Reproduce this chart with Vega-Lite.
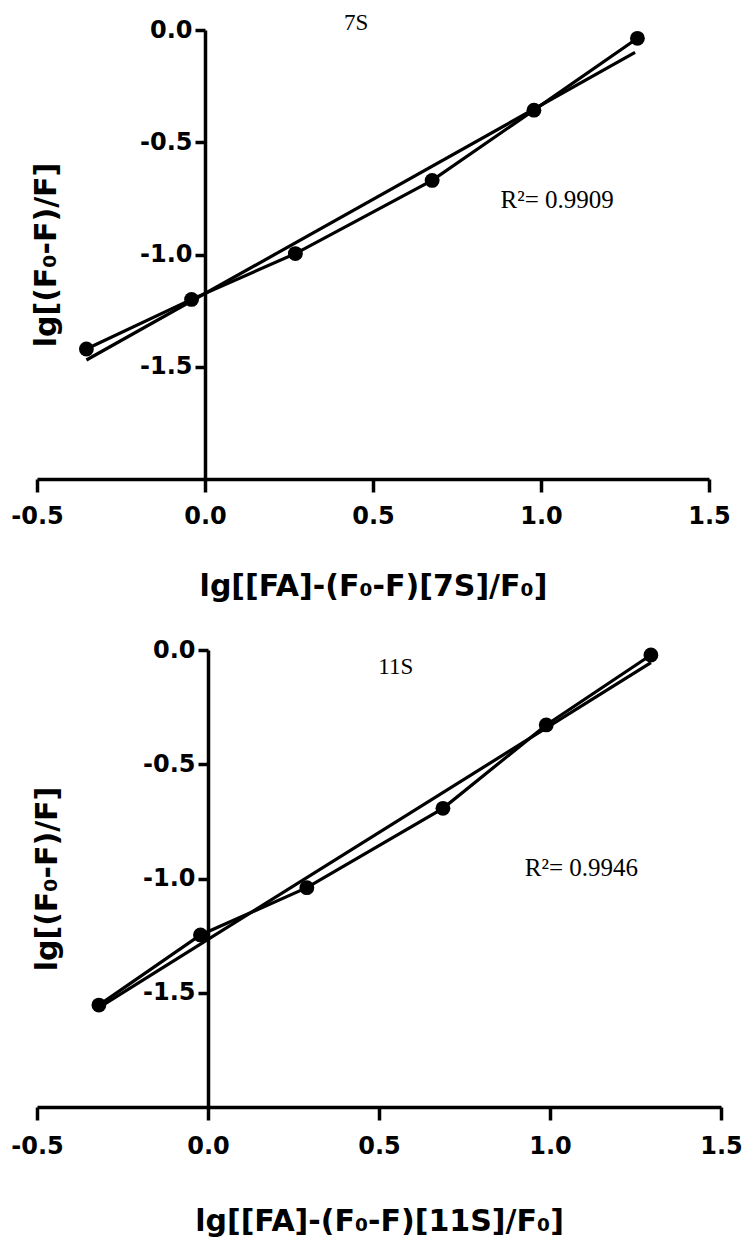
{
  "$schema": "https://vega.github.io/schema/vega-lite/v6.json",
  "background": "white",
  "padding": {"left": 10, "top": 12, "right": 5, "bottom": 5},
  "bounds": "flush",
  "spacing": 171,
  "config": {
    "view": {"stroke": null},
    "axis": {
      "grid": false,
      "domainColor": "black",
      "domainWidth": 3.5,
      "tickColor": "black",
      "tickWidth": 3.5,
      "labelFont": "DejaVu Sans",
      "labelFontWeight": "bold",
      "labelFontSize": 24,
      "labelColor": "black",
      "labelFlush": false,
      "labelOverlap": false,
      "titleFont": "DejaVu Sans",
      "titleFontWeight": "bold",
      "titleFontSize": 30,
      "titleColor": "black"
    }
  },
  "datasets": {
    "pts7S": [
      {"x": -0.353, "y": -1.421},
      {"x": -0.040, "y": -1.200},
      {"x": 0.269, "y": -0.996},
      {"x": 0.676, "y": -0.670},
      {"x": 0.979, "y": -0.357},
      {"x": 1.287, "y": -0.037}
    ],
    "fit7S": [
      {"x": -0.353, "y": -1.470},
      {"x": 1.280, "y": -0.100}
    ],
    "pts11S": [
      {"x": -0.319, "y": -1.554},
      {"x": -0.022, "y": -1.247},
      {"x": 0.289, "y": -1.040},
      {"x": 0.687, "y": -0.693},
      {"x": 0.989, "y": -0.328},
      {"x": 1.295, "y": -0.022}
    ],
    "fit11S": [
      {"x": -0.319, "y": -1.565},
      {"x": 1.295, "y": -0.055}
    ]
  },
  "vconcat": [
    {
      "width": 672,
      "height": 449,
      "layer": [
        {
          "data": {"name": "fit7S"},
          "mark": {"type": "line", "color": "black", "strokeWidth": 3.2},
          "encoding": {
            "x": {
              "field": "x", "type": "quantitative",
              "scale": {"domain": [-0.5, 1.5], "nice": false, "zero": false},
              "axis": {
                "values": [-0.5, 0, 0.5, 1, 1.5],
                "format": ".1f",
                "labelExpr": "replace(datum.label, '\u2212', '-')",
                "tickSize": 13,
                "labelPadding": 12,
                "titlePadding": 43,
                "title": "lg[[FA]-(F\u2080-F)[7S]/F\u2080]"
              }
            },
            "y": {
              "field": "y", "type": "quantitative",
              "scale": {"domain": [-2, 0], "nice": false, "zero": false},
              "axis": {
                "values": [0, -0.5, -1, -1.5],
                "format": ".1f",
                "labelExpr": "replace(datum.label, '\u2212', '-')",
                "offset": -168,
                "tickSize": 10,
                "labelPadding": 3,
                "title": "lg[(F\u2080-F)/F]",
                "titleX": -159,
                "titleBaseline": "middle"
              }
            }
          }
        },
        {
          "data": {"name": "pts7S"},
          "mark": {"type": "line", "color": "black", "strokeWidth": 3.2},
          "encoding": {
            "x": {"field": "x", "type": "quantitative"},
            "y": {"field": "y", "type": "quantitative"}
          }
        },
        {
          "data": {"name": "pts7S"},
          "mark": {"type": "point", "filled": true, "color": "black", "opacity": 1, "size": 220},
          "encoding": {
            "x": {"field": "x", "type": "quantitative"},
            "y": {"field": "y", "type": "quantitative"}
          }
        },
        {
          "data": {"values": [{}]},
          "mark": {"type": "text", "text": "7S", "font": "Liberation Serif", "fontSize": 23, "color": "black"},
          "encoding": {"x": {"datum": 0.45}, "y": {"datum": 0.031}}
        },
        {
          "data": {"values": [{}]},
          "mark": {"type": "text", "text": "R\u00b2= 0.9909", "font": "Liberation Serif", "fontSize": 25, "color": "black"},
          "encoding": {"x": {"datum": 1.048}, "y": {"datum": -0.759}}
        }
      ]
    },
    {
      "width": 684,
      "height": 457,
      "layer": [
        {
          "data": {"name": "fit11S"},
          "mark": {"type": "line", "color": "black", "strokeWidth": 3.2},
          "encoding": {
            "x": {
              "field": "x", "type": "quantitative",
              "scale": {"domain": [-0.5, 1.5], "nice": false, "zero": false},
              "axis": {
                "values": [-0.5, 0, 0.5, 1, 1.5],
                "format": ".1f",
                "labelExpr": "replace(datum.label, '\u2212', '-')",
                "tickSize": 13,
                "labelPadding": 14,
                "titlePadding": 48,
                "title": "lg[[FA]-(F\u2080-F)[11S]/F\u2080]"
              }
            },
            "y": {
              "field": "y", "type": "quantitative",
              "scale": {"domain": [-2, 0], "nice": false, "zero": false},
              "axis": {
                "values": [0, -0.5, -1, -1.5],
                "format": ".1f",
                "labelExpr": "replace(datum.label, '\u2212', '-')",
                "offset": -171,
                "tickSize": 10,
                "labelPadding": 3,
                "title": "lg[(F\u2080-F)/F]",
                "titleX": -161,
                "titleBaseline": "middle"
              }
            }
          }
        },
        {
          "data": {"name": "pts11S"},
          "mark": {"type": "line", "color": "black", "strokeWidth": 3.2},
          "encoding": {
            "x": {"field": "x", "type": "quantitative"},
            "y": {"field": "y", "type": "quantitative"}
          }
        },
        {
          "data": {"name": "pts11S"},
          "mark": {"type": "point", "filled": true, "color": "black", "opacity": 1, "size": 220},
          "encoding": {
            "x": {"field": "x", "type": "quantitative"},
            "y": {"field": "y", "type": "quantitative"}
          }
        },
        {
          "data": {"values": [{}]},
          "mark": {"type": "text", "text": "11S", "font": "Liberation Serif", "fontSize": 23, "color": "black"},
          "encoding": {"x": {"datum": 0.549}, "y": {"datum": -0.074}}
        },
        {
          "data": {"values": [{}]},
          "mark": {"type": "text", "text": "R\u00b2= 0.9946", "font": "Liberation Serif", "fontSize": 25, "color": "black"},
          "encoding": {"x": {"datum": 1.092}, "y": {"datum": -0.954}}
        }
      ]
    }
  ]
}
